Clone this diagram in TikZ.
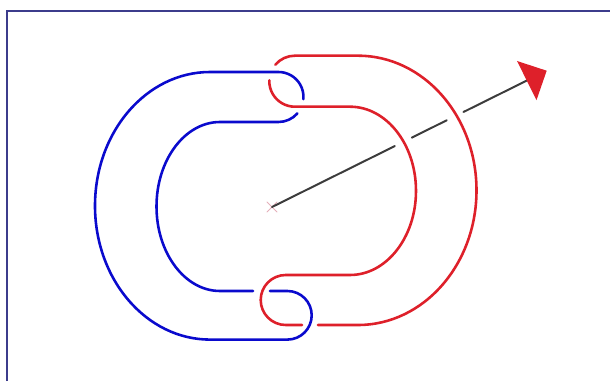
\documentclass[tikz,border=0pt]{standalone}
\usepackage{tikz}
\usetikzlibrary{arrows.meta, calc}
\definecolor{xanhdam}{RGB}{10,10,205}
\definecolor{dotuoi}{RGB}{222,32,42}
\definecolor{khung}{RGB}{60,60,140}
\definecolor{xam}{RGB}{60,60,60}
\definecolor{hong}{RGB}{228,175,185}

\begin{document}
\begin{tikzpicture}[x=0.3mm, y=0.3mm, line cap=round,
        dayxanh/.style={xanhdam, line width=2.2pt},
        daydo/.style={dotuoi, line width=2.2pt}]
            \useasboundingbox (0,0) rectangle (610,381);
            % Khung
            \draw[khung, line width=1.8pt, line cap=butt] (6.7,0) -- (6.7,370) -- (610,370);

            % Tâm và mũi tên (đứt đoạn chỗ dây đỏ đè lên)
            \coordinate (O) at (272,174);
            \coordinate (T) at (546.7,310.3);
            \draw[hong, line width=0.7pt] ($(O)+(-5,-5)$) -- ($(O)+(5,5)$) ($(O)+(-5,5)$) -- ($(O)+(5,-5)$);
            \draw[xam, line width=1.7pt] (O) -- ($(O)!0.447!(T)$) ($(O)!0.509!(T)$) -- ($(O)!0.636!(T)$);
            \draw[xam, line width=1.7pt, -{Triangle[length=19pt, width=37pt, color=dotuoi]}] ($(O)!0.697!(T)$) -- (T);

            % Dây xanh
            \draw[dayxanh] (270,90) -- (287.4,90) arc[start angle=90, end angle=-90, radius=24.3]
                -- (210,41.4) arc[start angle=270, end angle=90, x radius=115, y radius=133.8]
                -- (278.5,309) arc[start angle=90, end angle=-5, radius=25];
            \draw[dayxanh] ($(278.5,284)+(-41:25)$) arc[start angle=-41, end angle=-90, radius=25]
                -- (220,259) arc[start angle=90, end angle=270, x radius=63.5, y radius=84.5] -- (253,90);

            % Dây đỏ
            \draw[daydo] ($(294.8,299.8)+(140:25.5)$) arc[start angle=140, end angle=90, radius=25.5]
                -- (358,325.3) arc[start angle=90, end angle=-90, x radius=118.5, y radius=134.65] -- (318,56);
            \draw[daydo] (302,56) -- (285.7,56) arc[start angle=270, end angle=90, radius=25]
                -- (350,106) arc[start angle=-90, end angle=90, x radius=66, y radius=84.15]
                -- (294.8,274.3) arc[start angle=270, end angle=178, radius=25.5];
        \end{tikzpicture}
\end{document}
